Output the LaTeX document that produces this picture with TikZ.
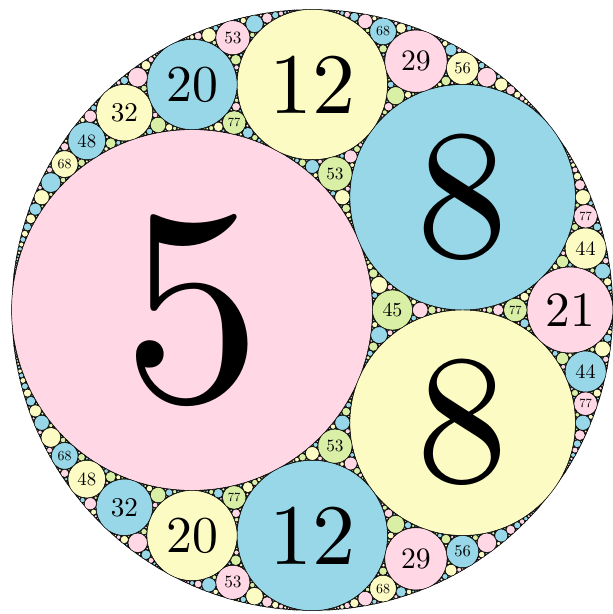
\documentclass[tikz,border=0pt]{standalone}
\usepackage{xfp}
\definecolor{cpink}{HTML}{FFD7E5}
\definecolor{cblue}{HTML}{98D7E8}
\definecolor{cyel}{HTML}{FDFBC4}
\definecolor{cgreen}{HTML}{D8EFA5}
\tikzset{
  disc/.style={draw=black,line width=0.45pt},
  lab/.style={inner sep=0pt,text=black},
  backdisc/.style={fill=black}
}
\def\gk#1/#2/#3/#4\relax{#1}
\def\gx#1/#2/#3/#4\relax{#2}
\def\gy#1/#2/#3/#4\relax{#3}
\def\gc#1/#2/#3/#4\relax{#4}
\def\S{902}
\def\kmax{1500}
\newcommand\drawdisc[4]{%
  \edef\X{\fpeval{round(\S*(#2)/(#1),3)}}%
  \edef\Y{\fpeval{round(\S*(#3)/(#1),3)}}%
  \edef\R{\fpeval{round(\S/(#1),3)}}%
  \path[disc,fill=#4] (\X pt,\Y pt) circle[radius=\R pt];
  \ifnum\fpeval{(#1)<80}=1
    \edef\sc{\fpeval{round(((#1)<10 ? 0.961*\R+16.7 : (\R>=40 ? 0.78*\R : 0.6*\R+1.5))/6.8,4)}}%
    \node[lab,scale=\sc] (lab#1) at (\X pt,\Y pt) {#1};
  \fi}
\newcommand\apolstep[4]{%
  \begingroup
  \edef\nk{\fpeval{2*(\gk#1\relax+\gk#2\relax+\gk#3\relax)-(\gk#4\relax)}}%
  \ifnum\fpeval{\nk<\kmax}=1
    \edef\nx{\fpeval{2*(\gx#1\relax+\gx#2\relax+\gx#3\relax)-(\gx#4\relax)}}%
    \edef\ny{\fpeval{2*(\gy#1\relax+\gy#2\relax+\gy#3\relax)-(\gy#4\relax)}}%
    \edef\nc{\gc#4\relax}%
    \edef\nxt{\noexpand\drawdisc{\nk}{\nx}{\ny}{\nc}%
      \noexpand\apolstep{#1}{#2}{\nk/\nx/\ny/\nc}{#3}%
      \noexpand\apolstep{#1}{#3}{\nk/\nx/\ny/\nc}{#2}%
      \noexpand\apolstep{#2}{#3}{\nk/\nx/\ny/\nc}{#1}}%
    \nxt
  \fi
  \endgroup}
\begin{document}
\begin{tikzpicture}
\useasboundingbox (-312.3pt,-304pt) rectangle (300.7pt,310pt);
\coordinate (o) at (0,0);
\fill[backdisc] (o) circle[radius=300.67pt];
\drawdisc{5}{-0.6666666666666667}{0}{cpink}
\drawdisc{8}{1.333333333333333}{1}{cblue}
\drawdisc{8}{1.333333333333333}{-1}{cyel}
\def\O{-3/0/0/cgreen}
\def\A{5/-0.6666666666666667/0/cpink}
\def\B{8/1.333333333333333/1/cblue}
\def\C{8/1.333333333333333/-1/cyel}
\edef\tmp{%
  \noexpand\apolstep{\A}{\B}{\C}{\O}%
  \noexpand\apolstep{\O}{\B}{\C}{\A}%
  \noexpand\apolstep{\O}{\A}{\B}{\C}%
  \noexpand\apolstep{\O}{\A}{\C}{\B}}
\tmp
\end{tikzpicture}
\end{document}
